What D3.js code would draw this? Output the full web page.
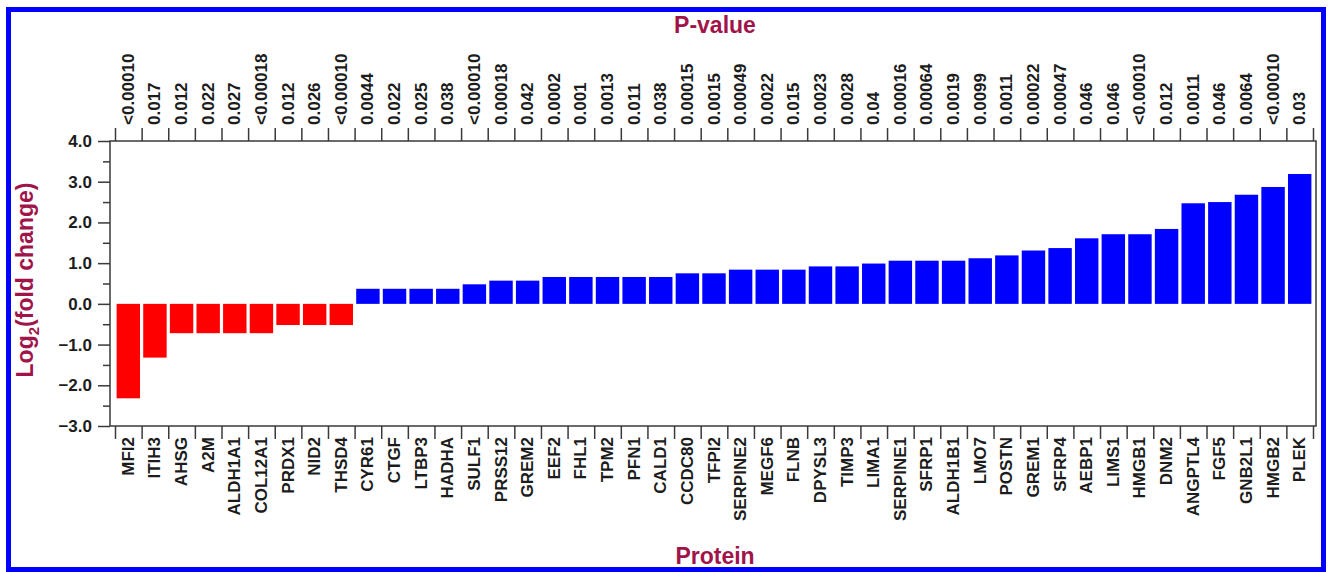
<!DOCTYPE html>
<html>
<head>
<meta charset="utf-8">
<script src="https://cdn.jsdelivr.net/npm/d3@7"></script>
<style>
	body { margin: 0; background: #fff; }
	svg text { font-family: "Liberation Sans", Arial, sans-serif; font-weight: bold; }
</style>
</head>
<body>
<div id="bar-chart"></div>
<script>
var proteins = ["MFI2", "ITIH3", "AHSG", "A2M", "ALDH1A1", "COL12A1", "PRDX1", "NID2", "THSD4",
	"CYR61", "CTGF", "LTBP3", "HADHA", "SULF1", "PRSS12", "GREM2", "EEF2", "FHL1", "TPM2",
	"PFN1", "CALD1", "CCDC80", "TFPI2", "SERPINE2", "MEGF6", "FLNB", "DPYSL3", "TIMP3", "LIMA1",
	"SERPINE1", "SFRP1", "ALDH1B1", "LMO7", "POSTN", "GREM1", "SFRP4", "AEBP1", "LIMS1", "HMGB1",
	"DNM2", "ANGPTL4", "FGF5", "GNB2L1", "HMGB2", "PLEK"];
var log2Fold = [-2.32, -1.32, -0.72, -0.72, -0.72, -0.72, -0.52, -0.52, -0.52,
	0.37, 0.37, 0.37, 0.37, 0.48, 0.57, 0.57, 0.66, 0.66, 0.66,
	0.66, 0.66, 0.75, 0.75, 0.84, 0.84, 0.84, 0.92, 0.92, 0.99,
	1.06, 1.06, 1.06, 1.12, 1.19, 1.31, 1.37, 1.61, 1.71, 1.71,
	1.84, 2.47, 2.50, 2.68, 2.87, 3.19];
var pValues = ["<0.00010", "0.017", "0.012", "0.022", "0.027", "<0.00018", "0.012", "0.026", "<0.00010",
	"0.0044", "0.022", "0.025", "0.038", "<0.00010", "0.00018", "0.042", "0.0002", "0.001", "0.0013",
	"0.011", "0.038", "0.00015", "0.0015", "0.00049", "0.0022", "0.015", "0.0023", "0.0028", "0.04",
	"0.00016", "0.00064", "0.0019", "0.0099", "0.0011", "0.00022", "0.00047", "0.046", "0.046", "<0.00010",
	"0.012", "0.0011", "0.046", "0.0064", "<0.00010", "0.03"];
var yTicks = [-3, -2, -1, 0, 1, 2, 3, 4];

function barChart() {
	var width = 1331,
		height = 572;
	var svg = d3.select("#bar-chart").append("svg")
		.attr("width", width)
		.attr("height", height);

	var titleColor = "#a0144a",
		axisColor = "#3a3a3a",
		textColor = "#1c1c1c";

	// Outer blue border
	svg.append("rect")
		.attr("x", 8.5).attr("y", 9.5)
		.attr("width", 1315).attr("height", 560)
		.attr("fill", "none")
		.attr("stroke", "#0000ff")
		.attr("stroke-width", 5);

	var frameLeft = 110, frameRight = 1316, frameTop = 141, frameBottom = 426;

	// Scales
	var y = d3.scaleLinear().domain([-3, 4]).range([frameBottom, frameTop]);
	var edge = d3.scaleLinear().domain([0, proteins.length]).range([115, 1313]);
	var xBar = d3.scaleBand().domain(proteins).range([115, 1313])
		.paddingInner(0.12).paddingOuter(0.06);
	var xBand = d3.scaleBand().domain(proteins).range([115, 1313]);

	// Bars
	svg.selectAll("rect.bar")
		.data(proteins)
		.enter()
		.append("rect")
		.attr("class", "bar")
		.attr("x", function (d) { return xBar(d); })
		.attr("width", xBar.bandwidth())
		.attr("y", function (d, i) { return y(Math.max(0, log2Fold[i])); })
		.attr("height", function (d, i) { return Math.abs(y(log2Fold[i]) - y(0)); })
		.attr("fill", function (d, i) { return log2Fold[i] < 0 ? "#ff0000" : "#0000ff"; });

	// Plot frame
	svg.append("rect")
		.attr("x", frameLeft).attr("y", frameTop)
		.attr("width", frameRight - frameLeft).attr("height", frameBottom - frameTop)
		.attr("fill", "none")
		.attr("stroke", axisColor)
		.attr("stroke-width", 1.5);

	// Y axis, major + minor ticks
	var yAxis = svg.append("g")
		.attr("transform", `translate(${frameLeft}, 0)`)
		.call(d3.axisLeft(y).tickValues(yTicks).tickSize(12).tickPadding(6).tickFormat(d3.format(".1f")));
	yAxis.select(".domain").remove();
	yAxis.selectAll("text").attr("font-size", 17).attr("fill", textColor);
	var yMinor = svg.append("g")
		.attr("transform", `translate(${frameLeft}, 0)`)
		.call(d3.axisLeft(y).tickValues(d3.range(-2.5, 4, 1)).tickSize(7).tickFormat(""));
	yMinor.select(".domain").remove();

	// Top and bottom ticks on the category boundaries
	var topTicks = svg.append("g")
		.attr("transform", `translate(0, ${frameTop})`)
		.call(d3.axisTop(edge).tickValues(d3.range(proteins.length + 1)).tickSize(13).tickFormat(""));
	topTicks.select(".domain").remove();
	var bottomTicks = svg.append("g")
		.attr("transform", `translate(0, ${frameBottom})`)
		.call(d3.axisBottom(edge).tickValues(d3.range(proteins.length + 1)).tickSize(13).tickFormat(""));
	bottomTicks.select(".domain").remove();
	svg.selectAll(".tick line").attr("stroke", axisColor).attr("stroke-width", 1.5);

	// P-value labels
	svg.append("g").selectAll("text")
		.data(proteins)
		.enter()
		.append("text")
		.attr("transform", function (d) {
			return `translate(${xBand(d) + xBand.bandwidth() / 2}, 125) rotate(-90)`;
		})
		.attr("dominant-baseline", "central")
		.attr("text-anchor", "start")
		.attr("font-size", 17)
		.attr("fill", textColor)
		.text(function (d, i) { return pValues[i]; });

	// Protein labels
	svg.append("g").selectAll("text")
		.data(proteins)
		.enter()
		.append("text")
		.attr("transform", function (d) {
			return `translate(${xBand(d) + xBand.bandwidth() / 2}, 437) rotate(-90)`;
		})
		.attr("dominant-baseline", "central")
		.attr("text-anchor", "end")
		.attr("font-size", 17)
		.attr("fill", textColor)
		.text(function (d) { return d; });

	// Titles
	svg.append("text")
		.attr("x", 715).attr("y", 33)
		.attr("text-anchor", "middle")
		.attr("font-size", 23)
		.attr("fill", titleColor)
		.text("P-value");
	svg.append("text")
		.attr("x", 715).attr("y", 564)
		.attr("text-anchor", "middle")
		.attr("font-size", 23)
		.attr("fill", titleColor)
		.text("Protein");

	var yTitle = svg.append("text")
		.attr("transform", "translate(33, 280) rotate(-90)")
		.attr("text-anchor", "middle")
		.attr("font-size", 23)
		.attr("fill", titleColor);
	yTitle.append("tspan").text("Log");
	yTitle.append("tspan").attr("font-size", 15).attr("dy", 6).text("2");
	yTitle.append("tspan").attr("dy", -6).text("(fold change)");
}

barChart();
</script>
</body>
</html>
